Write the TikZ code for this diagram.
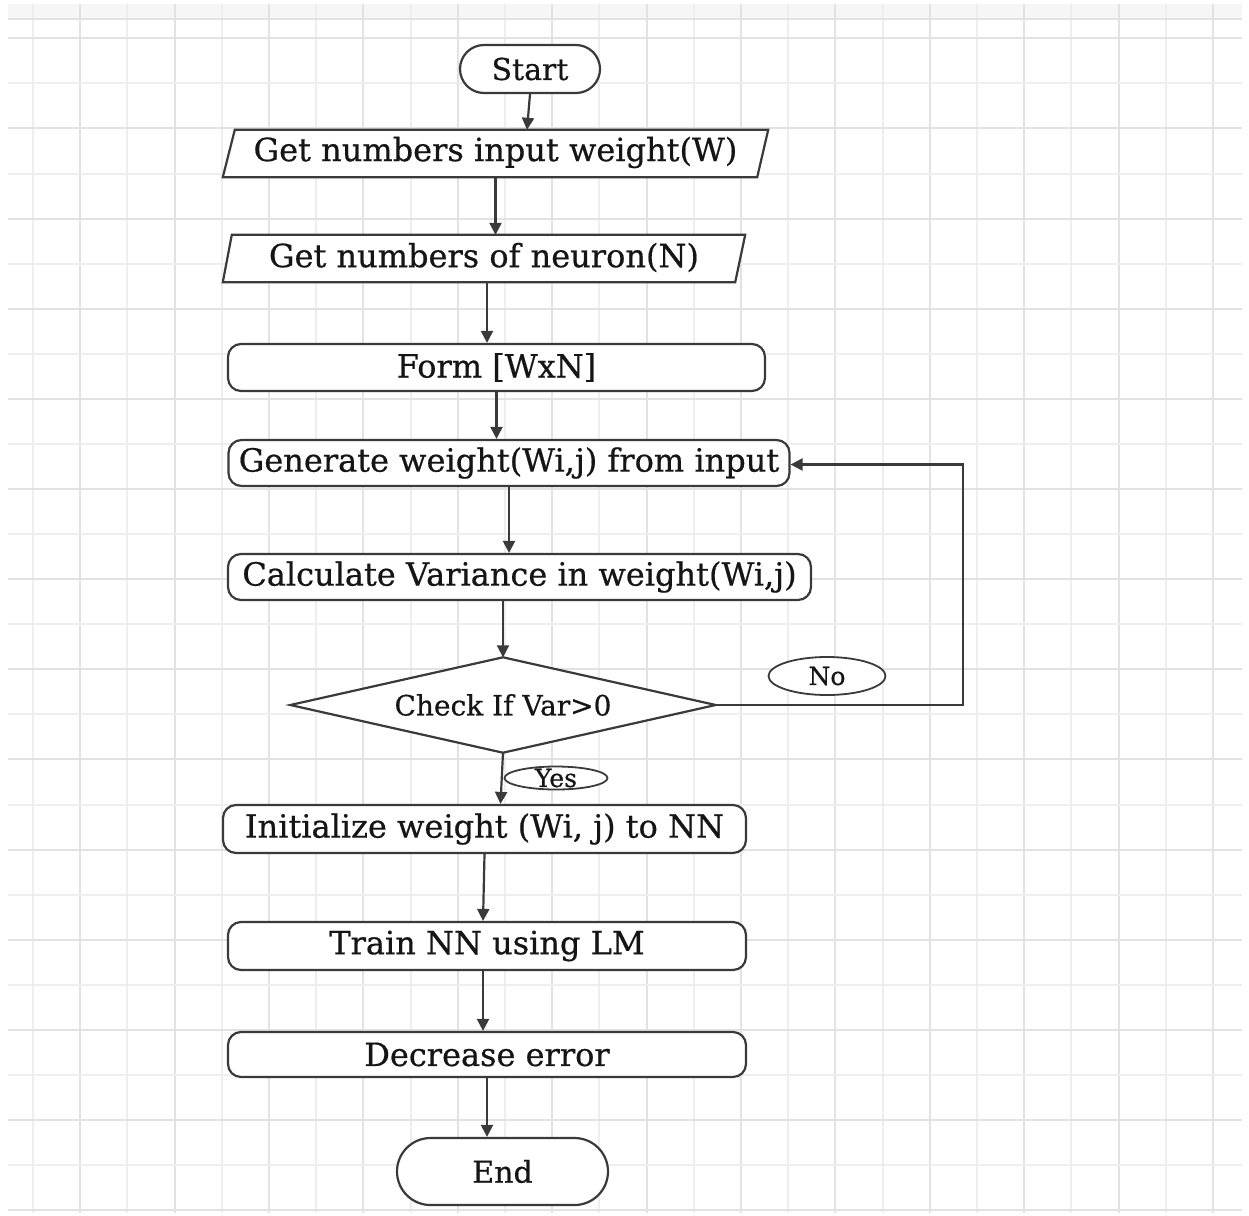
\documentclass[tikz,border=0pt]{standalone}
\usepackage{fontspec}
\setmainfont[FakeBold=0.6]{DejaVu Serif}
\usetikzlibrary{shapes.geometric,shapes.misc,arrows.meta}
\definecolor{gridA}{HTML}{E2E2E2}
\definecolor{gridB}{HTML}{EEEEEE}
\definecolor{band}{HTML}{F6F6F6}
\definecolor{ink}{HTML}{3A3A3A}
\definecolor{txt}{HTML}{151515}
\begin{document}
\begin{tikzpicture}[x=1pt,y=-1pt,
  every node/.style={text=txt},
  flow/.style={draw=ink, line width=2.2pt, fill=white},
  arr/.style={draw=ink, line width=2.2pt, -{Triangle[length=12pt,width=12pt]}},
  boxtext/.style={font=\fontsize{32}{38}\selectfont, inner sep=0pt},
  procbox/.style={boxtext, draw=ink, line width=2.2pt, rounded corners=13pt, fill=white},
  ioshape/.style={boxtext},
  term/.style={rounded rectangle, draw=ink, line width=2.2pt, fill=white, inner sep=0pt, font=\fontsize{30}{36}\selectfont},
  tag/.style={ellipse, draw=ink, line width=1.8pt, fill=white, inner sep=0pt},
  tagtext/.style={font=\fontsize{25}{29}\selectfont, inner sep=0pt}
]
% page and squared paper
\useasboundingbox[fill=white] (0,0) rectangle (1249,1215);
\fill[band] (8,4) rectangle (1242,18);
\foreach \k in {0,...,25}{
  \pgfmathsetmacro{\gx}{33+47.2*\k}
  \ifodd\k \def\gc{gridA}\else \def\gc{gridB}\fi
  \draw[\gc, line width=2pt] (\gx,4) -- (\gx,1213);
}
\draw[gridA, line width=2pt] (8,19) -- (1242,19);
\foreach \k in {0,...,26}{
  \pgfmathsetmacro{\gy}{38.3+45.07*\k}
  \ifodd\k \def\gc{gridB}\else \def\gc{gridA}\fi
  \draw[\gc, line width=2pt] (8,\gy) -- (1242,\gy);
}

% flowchart nodes
\node[term, minimum width=140pt, minimum height=48pt] (start) at (530,69) {Start};

\node[ioshape, minimum width=545pt, minimum height=47pt] (p1) at (495.5,153.5) {};
\draw[flow] ([xshift=12pt]p1.north west) -- (p1.north east) -- ([xshift=-11pt]p1.south east) -- (p1.south west) -- cycle;
\node[boxtext] at ([yshift=1pt]p1) {Get numbers input weight(W)};

\node[ioshape, minimum width=522pt, minimum height=47pt] (p2) at (484,258.5) {};
\draw[flow] ([xshift=9pt]p2.north west) -- (p2.north east) -- ([xshift=-10pt]p2.south east) -- (p2.south west) -- cycle;
\node[boxtext] at ([yshift=1pt]p2) {Get numbers of neuron(N)};

\node[procbox, minimum width=537pt, minimum height=47pt] (form) at (496.5,367.5) {Form [WxN]};
\node[procbox, minimum width=561pt, minimum height=46pt] (gen) at (509,463) {Generate weight(Wi,j) from input};
\node[procbox, minimum width=583pt, minimum height=46pt] (calc) at (519.5,577) {Calculate Variance in weight(Wi,j)};

\node[minimum width=425pt, minimum height=95pt, inner sep=0pt] (chk) at (503,705) {};
\draw[flow] (chk.north) -- (chk.east) -- (chk.south) -- (chk.west) -- cycle;
\node[font=\fontsize{28}{32}\selectfont, inner sep=0pt] at (chk) {Check If Var>0};

\node[tag, minimum width=117pt, minimum height=38pt] (no) at (827,676) {};
\node[tagtext] at (no) {No};
\node[tag, minimum width=103pt, minimum height=23pt] (yes) at (556,778) {};
\node[tagtext] at (yes) {Yes};

\node[procbox, minimum width=523pt, minimum height=48pt] (init) at (484.5,829) {Initialize weight (Wi, j) to NN};
\node[procbox, minimum width=518pt, minimum height=48pt] (train) at (487,946) {Train NN using LM};
\node[procbox, minimum width=518pt, minimum height=45pt] (dec) at (487,1054.5) {Decrease error};
\node[term, minimum width=211pt, minimum height=67pt] (end) at (502.5,1171.5) {End};

% connectors
\draw[arr] (start.south) -- ([xshift=31.5pt]p1.north);
\draw[arr] (p1.south) -- (p1.south |- p2.north);
\draw[arr] ([xshift=3pt]p2.south) -- ([xshift=3pt]p2.south |- form.north);
\draw[arr] (form.south) -- (form.south |- gen.north);
\draw[arr] (gen.south) -- (gen.south |- calc.north);
\draw[arr] (chk.north |- calc.south) -- (chk.north);
\coordinate (loop) at (963,705);
\draw[arr] (chk.east) -- (loop) |- ([yshift=-1.5pt]gen.east);
\draw[arr] (chk.south) -- ([xshift=16pt]init.north);
\draw[arr] (init.south) -- ([xshift=-4pt]train.north);
\draw[arr] ([xshift=-4pt]train.south) -- ([xshift=-4pt]dec.north);
\draw[arr] (dec.south) -- (dec.south |- end.north);
\end{tikzpicture}
\end{document}
